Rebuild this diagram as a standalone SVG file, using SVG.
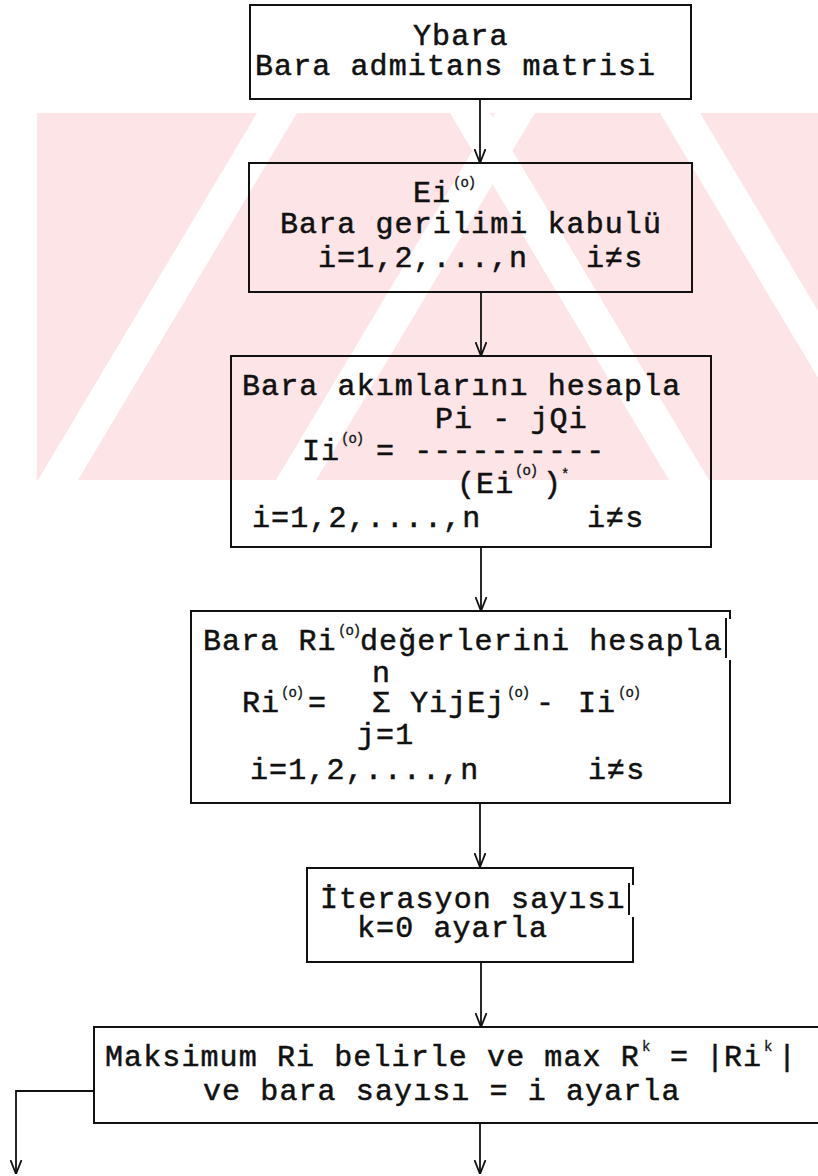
<svg xmlns="http://www.w3.org/2000/svg" width="818" height="1176" viewBox="0 0 818 1176">
<defs>
<style>
.box{fill:none;stroke:#111;stroke-width:2}
.t{font-family:"Liberation Mono","DejaVu Sans Mono",monospace;font-size:30px;letter-spacing:1.1px;fill:#111;stroke:#111;stroke-width:0.5}
.sup{font-family:"Liberation Mono","DejaVu Sans Mono",monospace;font-size:14px;letter-spacing:-1px;fill:#111;stroke:#111;stroke-width:0.3}
.conn{fill:none;stroke:#111;stroke-width:1.8;marker-end:url(#arr)}
.wm{fill:#fce4e7}
.ws{fill:#ffffff}
</style>
<marker id="arr" markerUnits="userSpaceOnUse" viewBox="0 0 14 12" refX="14" refY="6" markerWidth="14" markerHeight="12" orient="auto">
<path d="M0,0.5 L14,6 L0,11.5" fill="none" stroke="#111" stroke-width="1.8"/>
</marker>
<clipPath id="wmclip"><rect x="37" y="113" width="781" height="367"/></clipPath>
</defs>
<rect width="818" height="1176" fill="#fff"/>
<g id="watermark" clip-path="url(#wmclip)">
<rect class="wm" x="37" y="113" width="781" height="367"/>
<polygon class="ws" points="257,113 297,113 78,480 38,480"/>
<polygon class="ws" points="495,113 535,113 316,480 276,480"/>
<polygon class="ws" points="450,113 490,113 709,480 669,480"/>
<polygon class="ws" points="660,113 700,113 919,480 879,480"/>
</g>
<g id="connectors">
<path class="conn" d="M480,99 V163"/>
<path class="conn" d="M481,292 V356"/>
<path class="conn" d="M481,547 V611"/>
<path class="conn" d="M480,803 V867"/>
<path class="conn" d="M481,962 V1027"/>
<path class="conn" d="M480,1123 V1174"/>
<path class="conn" d="M94,1091 H16 V1174"/>
</g>
<g id="n1">
<rect class="box" x="250" y="5" width="441" height="94"/>
<text class="t" x="413" y="45">Ybara</text>
<text class="t" x="255" y="75">Bara admitans matrisi</text>
</g>
<g id="n2">
<rect class="box" x="249" y="163" width="443" height="129"/>
<text class="t" x="413" y="202">Ei</text><text class="sup" x="453" y="187">(o)</text>
<text class="t" x="280" y="233">Bara gerilimi kabulü</text>
<text class="t" x="318" y="267">i=1,2,...,n</text><text class="t" x="586" y="267">i≠s</text>
</g>
<g id="n3">
<rect class="box" x="231" y="356" width="480" height="191"/>
<text class="t" x="242" y="395">Bara akımlarını hesapla</text>
<text class="t" x="435" y="428">Pi - jQi</text>
<text class="t" x="302" y="460">Ii</text><text class="sup" x="341" y="443">(o)</text>
<text class="t" x="376" y="460">= ----------</text>
<text class="t" x="457" y="493">(Ei</text><text class="sup" x="515" y="475">(o)</text>
<text class="t" x="543" y="493">)</text><text class="sup" x="561" y="479" font-size="20">*</text>
<text class="t" x="252" y="527">i=1,2,....,n</text><text class="t" x="587" y="527">i≠s</text>
</g>
<g id="n4">
<path class="box" d="M730,619 V611 H191 V803 H730 V660"/>
<path class="box" d="M726,618 V658"/>
<text class="t" x="203" y="650">Bara Ri</text><text class="sup" x="338" y="635">(o)</text>
<text class="t" x="360" y="650">değerlerini hesapla</text>
<text class="t" x="372" y="682">n</text>
<text class="t" x="242" y="712">Ri</text><text class="sup" x="281" y="697">(o)</text>
<text class="t" x="308" y="712">=</text>
<text class="t" x="372" y="712">Σ</text>
<text class="t" x="410" y="712">YijEj</text><text class="sup" x="507" y="697">(o)</text>
<text class="t" x="536" y="712">-</text>
<text class="t" x="578" y="712">Ii</text><text class="sup" x="618" y="697">(o)</text>
<text class="t" x="357" y="744">j=1</text>
<text class="t" x="250" y="779">i=1,2,....,n</text><text class="t" x="588" y="779">i≠s</text>
</g>
<g id="n5">
<path class="box" d="M633,885 V868 H307 V962 H633 V917"/>
<path class="box" d="M629,883 V915"/>
<text class="t" x="320" y="908">İterasyon sayısı</text>
<text class="t" x="357" y="937">k=0 ayarla</text>
</g>
<g id="n6">
<path class="box" d="M818,1027 H94 V1123 H818"/>
<text class="t" x="105" y="1066">Maksimum Ri belirle ve max R</text><text class="sup" x="642" y="1051">k</text>
<text class="t" x="670" y="1066">=</text>
<text class="t" x="706" y="1066">|</text>
<text class="t" x="724" y="1066">Ri</text><text class="sup" x="764" y="1051">k</text>
<text class="t" x="778" y="1066">|</text>
<text class="t" x="203" y="1100">ve bara sayısı = i ayarla</text>
</g>
</svg>
